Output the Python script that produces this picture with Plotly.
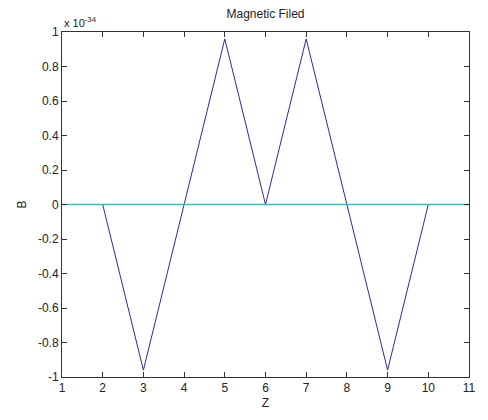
import plotly.graph_objects as go

# Field profile along Z (values in units of 1e-34)
z = [2, 3, 4, 5, 6, 7, 8, 9, 10]
b = [0, -0.96, 0, 0.96, 0, 0.96, 0, -0.96, 0]

# Reference line at B = 0 across the full Z range
z_ref = [1, 11]
b_ref = [0, 0]

x_ticks = [1, 2, 3, 4, 5, 6, 7, 8, 9, 10, 11]
y_ticks = [-1, -0.8, -0.6, -0.4, -0.2, 0, 0.2, 0.4, 0.6, 0.8, 1]
y_tick_text = ["-1", "-0.8", "-0.6", "-0.4", "-0.2", "0", "0.2", "0.4", "0.6", "0.8", "1"]

font = "Liberation Sans, Arial, Helvetica, sans-serif"

fig = go.Figure()
fig.add_trace(go.Scatter(x=z, y=b, mode="lines",
                         line=dict(color="#2b2ba0", width=1)))
fig.add_trace(go.Scatter(x=z_ref, y=b_ref, mode="lines",
                         line=dict(color="#3fbcbc", width=1.5)))

axis_common = dict(showgrid=False, zeroline=False, showline=True, mirror="allticks",
                   linecolor="#333333", linewidth=1, ticks="inside", ticklen=5,
                   tickcolor="#333333", tickfont=dict(family=font, size=12, color="#222222"))

fig.update_layout(
    width=488, height=420,
    margin=dict(l=62, r=12, t=32, b=36),
    paper_bgcolor="white", plot_bgcolor="white",
    showlegend=False,
    font=dict(family=font, size=12, color="#222222"),
    title=dict(text="Magnetic Filed", x=0.5, xanchor="center", xref="paper",
               y=1 - 14 / 420, yanchor="middle", font=dict(family=font, size=12, color="#222222")),
    xaxis=dict(range=[1, 11], tickvals=x_ticks, ticktext=[str(t) for t in x_ticks],
               title=dict(text="Z", standoff=4, font=dict(family=font, size=12)),
               **axis_common),
    yaxis=dict(range=[-1, 1], tickvals=y_ticks, ticktext=y_tick_text,
               title=dict(text="B", standoff=8, font=dict(family=font, size=12)),
               **axis_common),
)

fig.add_annotation(text="x 10<sup>-34</sup>", xref="paper", yref="paper",
                   x=0, y=1, xanchor="left", yanchor="bottom", yshift=1,
                   showarrow=False, font=dict(family=font, size=11, color="#222222"))

fig.write_html("out.html")
